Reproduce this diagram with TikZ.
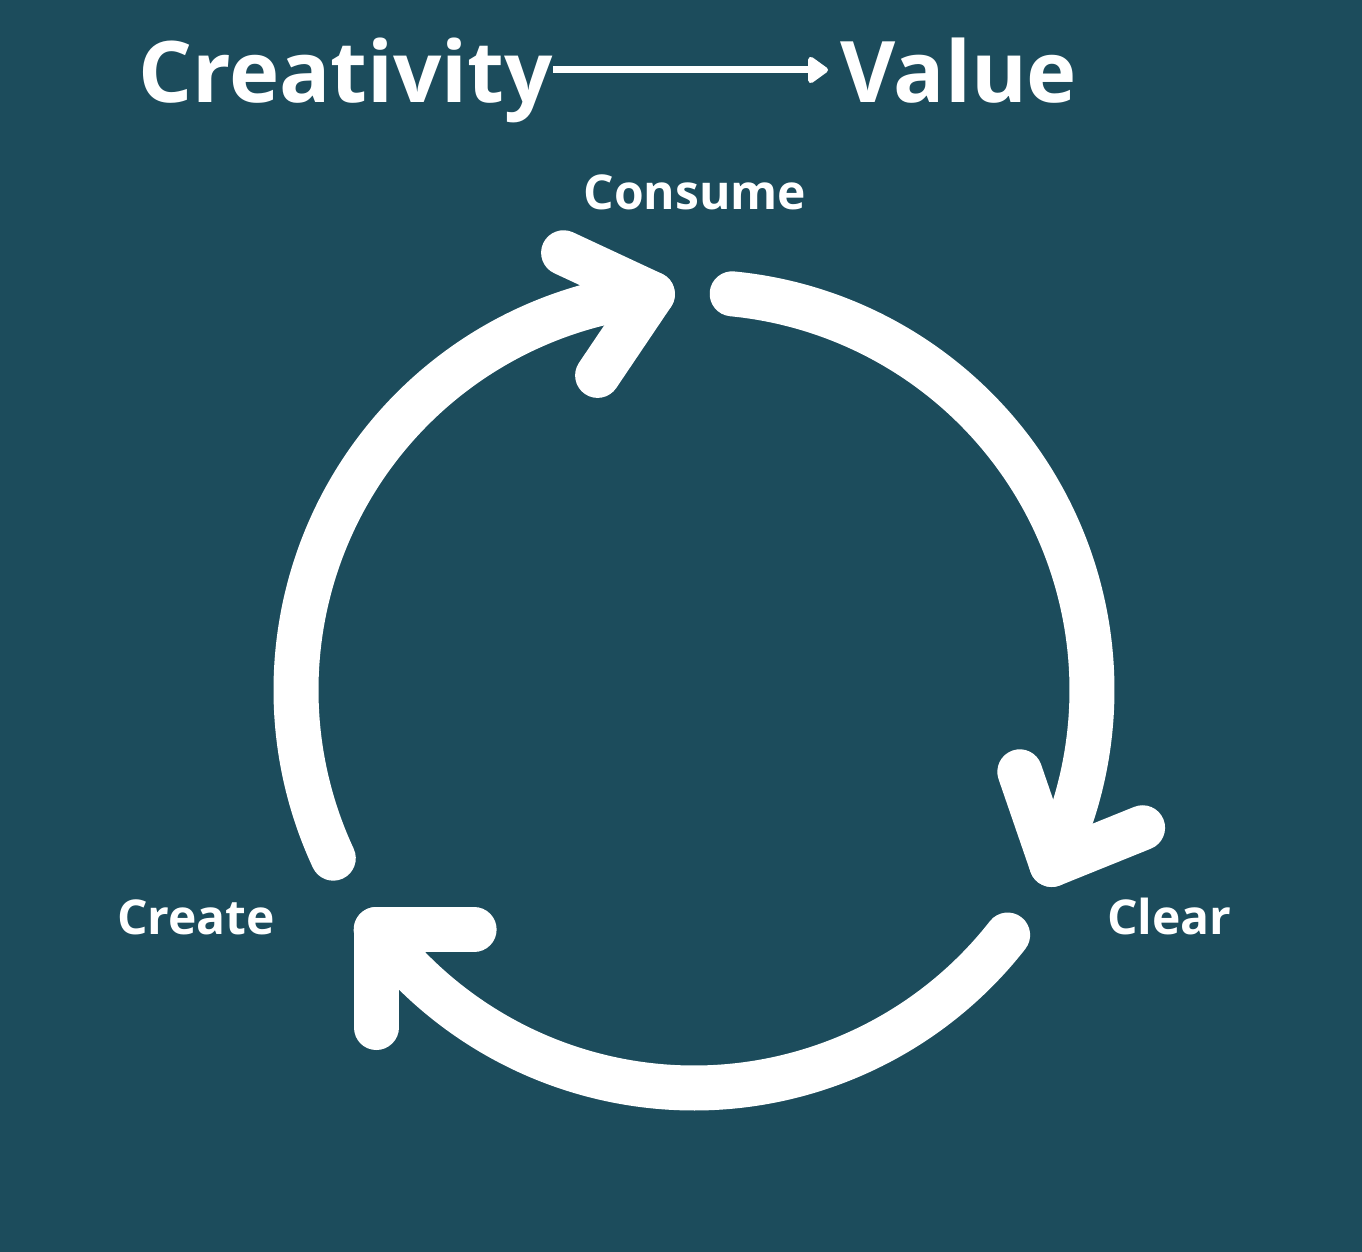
\documentclass[tikz,border=0pt]{standalone}
\usepackage{fontspec}
\setmainfont{Open Sans}
\usetikzlibrary{arrows.meta}
\definecolor{tealbg}{RGB}{28,76,92}
\begin{document}
\begin{tikzpicture}[x=1pt, y=1pt,
		every node/.style={text=white, inner sep=0pt},
		title/.style={font=\bfseries\fontsize{85}{90}\selectfont},
		stage/.style={font=\bfseries\fontsize{48}{52}\selectfont},
		loop/.style={white, line width=45, line cap=round, line join=round}]
		\fill[tealbg] (0,0) rectangle (1362,1252);
		\useasboundingbox (0,0) rectangle (1362,1252);
		\coordinate (hub) at (694,562);
		% heading
		\node[title, anchor=base west] (creativity) at (138,1149) {Creativity};
		\node[title, anchor=base west] (value) at (840,1149) {Value};
		\draw[white, line width=7pt, -{Triangle[length=22pt, width=30pt, round]}, shorten >=12pt]
			([yshift=33pt]creativity.base east) -- ([yshift=33pt]value.base west);
		% stages
		\node[stage, anchor=base] (consume) at (695,1042) {Consume};
		\node[stage, anchor=base west] (create) at (117,317) {Create};
		\node[stage, anchor=base west] (clear) at (1107,317) {Clear};
		% cycle
		\foreach \from/\to/\armA/\armB [count=\n] in {205/96/155/236, 84.5/-26/109/22, -38/-143/0/-90}{
				\draw[loop] (hub) ++(\from:398) arc[start angle=\from, end angle=\to, radius=398] coordinate (tip-\n);
				\draw[loop] (tip-\n) ++(\armA:98) -- (tip-\n) -- ++(\armB:98);
			}
	\end{tikzpicture}
\end{document}
